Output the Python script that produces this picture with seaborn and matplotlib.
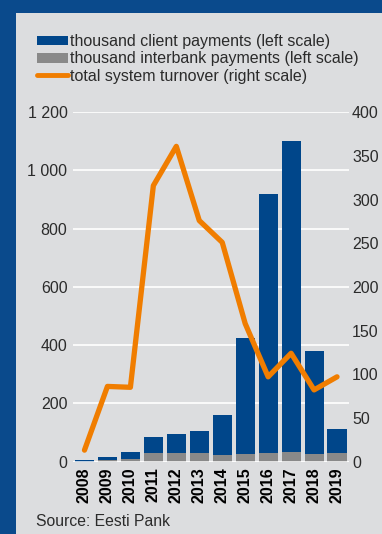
import matplotlib
matplotlib.use("Agg")
import matplotlib.pyplot as plt
import seaborn as sns
import numpy as np
import pandas as pd
from matplotlib.patches import Rectangle, Patch
from matplotlib.lines import Line2D

years = ["2008", "2009", "2010", "2011", "2012", "2013", "2014", "2015", "2016", "2017", "2018", "2019"]
client = [5, 12, 24, 54, 64, 78, 138, 400, 890, 1067, 352, 83]
interbank = [0, 5, 9, 30, 30, 28, 22, 25, 30, 33, 27, 28]
turnover = [13, 86, 85, 316, 361, 276, 251, 158, 97, 124, 82, 97]
left_ticks = [0, 200, 400, 600, 800, 1000, 1200]
left_labels = ["0", "200", "400", "600", "800", "1 000", "1 200"]
right_ticks = [0, 50, 100, 150, 200, 250, 300, 350, 400]

BLUE = "#00468a"
GREY = "#898989"
ORANGE = "#f07d00"
BG = "#dcdddf"
FRAME = "#0a4a8c"

sns.set_theme(style="white")
plt.rcParams["font.family"] = ["Liberation Sans", "DejaVu Sans"]

df = pd.DataFrame({"year": years, "client": client, "interbank": interbank, "turnover": turnover})
df["total"] = df["client"] + df["interbank"]

W, H = 382, 534
fig = plt.figure(figsize=(W / 100, H / 100), dpi=100)
fig.patch.set_facecolor(BG)
# dark blue frame on the left and top
fig.patches.append(Rectangle((0, 0), 16 / W, 1, transform=fig.transFigure,
                             facecolor=FRAME, edgecolor="none", zorder=-10))
fig.patches.append(Rectangle((0, (H - 13) / H), 1, 13 / H, transform=fig.transFigure,
                             facecolor=FRAME, edgecolor="none", zorder=-10))

ax = fig.add_axes([73 / W, (H - 461.5) / H, (348.5 - 73) / W, (461.5 - 112.3) / H])
ax.set_facecolor("none")
sns.barplot(data=df, x="year", y="total", color=BLUE, width=0.83, saturation=1, ax=ax, linewidth=0, zorder=2)
sns.barplot(data=df, x="year", y="interbank", color=GREY, width=0.83, saturation=1, ax=ax, linewidth=0, zorder=3)
ax.set_xlim(-0.5, len(years) - 0.5)
ax.set_ylim(0, 1200)
ax.set_yticks(left_ticks)
ax.set_yticklabels(left_labels)
ax.set_xlabel("")
ax.set_ylabel("")
ax.grid(axis="y", color="white", linewidth=1.2, zorder=0)
ax.set_axisbelow(True)
for s in ax.spines.values():
    s.set_visible(False)
ax.axhline(0, color="white", linewidth=1.8, zorder=4)
ax.tick_params(axis="y", length=0, pad=4, labelsize=11.5, labelcolor="#2b2b2b")
ax.tick_params(axis="x", length=0, pad=4, labelsize=11.5, labelcolor="black")
for lbl in ax.get_xticklabels():
    lbl.set_rotation(90)
    lbl.set_fontweight("bold")

ax2 = ax.twinx()
xpos = np.arange(len(years))
sns.lineplot(x=xpos, y=df["turnover"].values, color=ORANGE, linewidth=3.8, ax=ax2, zorder=5)
ax2.set_ylim(0, 400)
ax2.set_xlim(-0.5, len(years) - 0.5)
ax2.set_yticks(right_ticks)
ax2.set_yticklabels([str(t) for t in right_ticks])
ax2.set_ylabel("")
for s in ax2.spines.values():
    s.set_visible(False)
ax2.tick_params(axis="y", length=0, pad=2.5, labelsize=11.5, labelcolor="#2b2b2b")
ax2.grid(False)

handles = [Patch(facecolor=BLUE, edgecolor="none"),
           Patch(facecolor=GREY, edgecolor="none"),
           Line2D([0], [0], color=ORANGE, linewidth=3.5)]
labels = ["thousand client payments (left scale)",
          "thousand interbank payments (left scale)",
          "total system turnover (right scale)"]
fig.legend(handles, labels, loc="upper left", bbox_to_anchor=(34 / W, 1 - 31 / H),
           frameon=False, fontsize=11.5, handlelength=1.95, handleheight=0.55,
           handletextpad=0.12, labelspacing=0.14, borderaxespad=0, borderpad=0.2,
           labelcolor="#2b2b2b")

fig.text(36 / W, 1 - 521 / H, "Source: Eesti Pank", fontsize=11.3, color="#2b2b2b", va="center", ha="left")

fig.savefig("out.png", dpi=100, facecolor=fig.get_facecolor())
